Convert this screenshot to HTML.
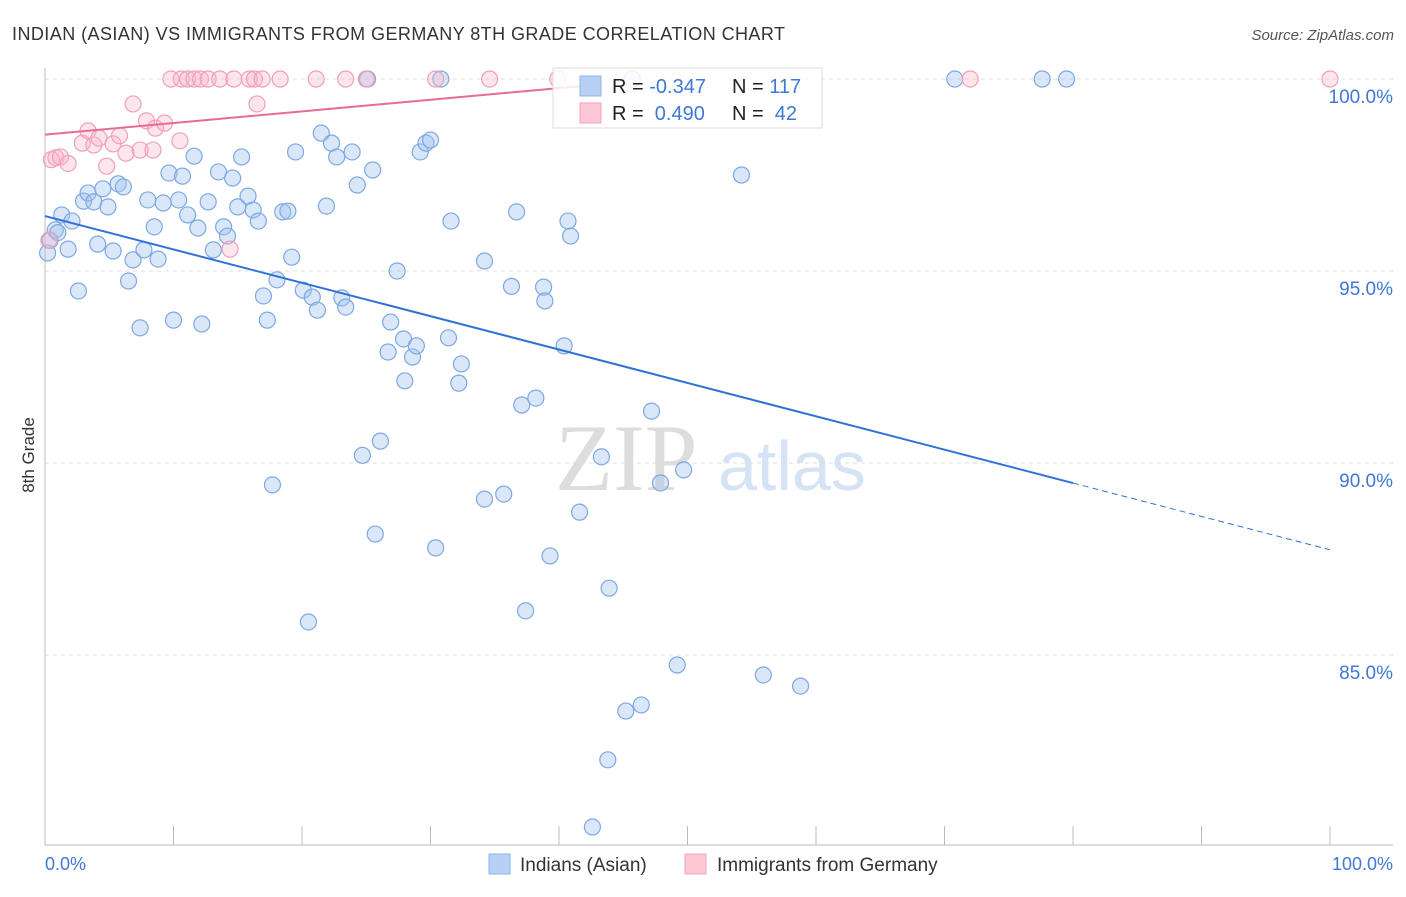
<!DOCTYPE html>
<html><head><meta charset="utf-8"><style>
body{margin:0;background:#fff;font-family:"Liberation Sans",sans-serif}
</style></head><body>
<svg id="c" width="1406" height="892" xmlns="http://www.w3.org/2000/svg" font-family="Liberation Sans, sans-serif">
<text x="12" y="40" font-size="18" fill="#333" textLength="773">INDIAN (ASIAN) VS IMMIGRANTS FROM GERMANY 8TH GRADE CORRELATION CHART</text>
<text x="1394" y="40" font-size="15" fill="#555" font-style="italic" text-anchor="end">Source: ZipAtlas.com</text>
<text x="34" y="455" font-size="17" fill="#333" transform="rotate(-90 34 455)" text-anchor="middle">8th Grade</text>
<text x="555" y="490" font-size="95" fill="#ddd" font-family="Liberation Serif, serif">ZIP</text>
<text x="718" y="490" font-size="70" fill="#d5e3f5">atlas</text>
<g id="grid"></g><g id="pts"></g><g id="lines"></g>
<g>
<rect x="553" y="68" width="269" height="60" fill="rgba(255,255,255,0.85)" stroke="#ddd"/>
<rect x="580" y="76" width="21" height="20" fill="#b7d0f3" stroke="#8fb3e8"/>
<rect x="580" y="103" width="21" height="20" fill="#fcc8d6" stroke="#f2a3b8"/>
<text x="612" y="93" font-size="20" fill="#222">R = <tspan fill="#3f78d6">-0.347</tspan></text>
<text x="732" y="93" font-size="20" fill="#222">N = <tspan fill="#3f78d6">117</tspan></text>
<text x="612" y="120" font-size="20" fill="#222" xml:space="preserve">R =  <tspan fill="#3f78d6">0.490</tspan></text>
<text x="732" y="120" font-size="20" fill="#222" xml:space="preserve">N =  <tspan fill="#3f78d6">42</tspan></text>
</g>
<g>
<rect x="489" y="854" width="21" height="20" fill="#b7d0f3" stroke="#8fb3e8"/>
<text x="520" y="871" font-size="19" fill="#333">Indians (Asian)</text>
<rect x="685" y="854" width="21" height="20" fill="#fcc8d6" stroke="#f2a3b8"/>
<text x="717" y="871" font-size="19" fill="#333">Immigrants from Germany</text>
</g>
<text x="45" y="870" font-size="18" fill="#3f78d6">0.0%</text>
<text x="1393" y="870" font-size="18" fill="#3f78d6" text-anchor="end">100.0%</text>
</svg>
<script>
const blueX=[0.2,0.4,0.8,1.0,1.3,1.8,2.1,2.6,3.0,3.35,3.8,4.1,4.5,4.9,5.3,5.7,6.1,6.5,6.85,7.4,7.7,8.0,8.5,8.8,9.2,9.65,10.0,10.4,10.7,11.1,11.6,11.9,12.2,12.7,13.1,13.5,13.9,14.2,14.6,15.0,15.3,15.8,16.2,16.6,17.0,17.3,17.7,18.05,18.5,18.9,19.2,19.5,20.1,20.5,20.8,21.2,21.5,21.9,22.3,22.7,23.1,23.4,23.9,24.3,24.7,25.1,25.5,25.7,26.1,26.7,26.9,27.4,27.9,28.0,28.6,28.9,29.2,29.65,30.0,30.4,30.8,31.4,31.6,32.2,32.4,34.2,34.2,35.7,36.3,36.7,37.1,37.4,38.2,38.8,38.9,39.3,40.4,40.7,40.9,41.6,42.6,43.3,43.8,43.9,45.2,46.4,47.2,47.9,49.2,49.7,54.2,55.9,58.8,70.8,77.6,79.5,45.7];
const blueY=[95.47,95.8,96.07,96.0,96.46,95.57,96.3,94.48,96.82,97.03,96.8,95.7,97.14,96.67,95.52,97.27,97.19,94.74,95.29,93.52,95.55,96.85,96.15,95.31,96.77,97.55,93.72,96.85,97.47,96.46,97.99,96.12,93.62,96.8,95.55,97.58,96.15,95.91,97.42,96.67,97.97,96.95,96.59,96.3,94.35,93.72,89.43,94.77,96.54,96.56,95.36,98.1,94.5,85.86,94.32,93.98,98.59,96.69,98.33,97.97,94.3,94.06,98.1,97.24,90.2,100,97.63,88.15,90.57,92.89,93.67,95.0,93.23,92.14,92.76,93.05,98.1,98.33,98.41,87.79,100,93.26,96.3,92.08,92.58,89.06,95.26,89.19,94.6,96.54,91.51,86.15,91.69,94.58,94.22,87.58,93.05,96.3,95.91,88.72,80.52,90.16,82.27,86.74,83.54,83.7,91.35,89.48,84.74,89.82,97.5,84.48,84.19,100,100,100,100];
const pinkX=[0.5,0.85,1.2,1.8,2.9,3.35,3.8,4.2,4.8,5.3,5.8,6.3,6.85,7.4,7.9,8.4,8.6,9.3,9.8,10.6,11.1,11.6,12.1,12.7,13.6,14.7,15.9,16.3,16.9,18.3,21.1,23.4,25.0,30.4,34.6,39.9,72.0,100,10.5,14.4,16.5,0.3];
const pinkY=[97.9,97.95,97.97,97.8,98.33,98.65,98.28,98.46,97.73,98.31,98.52,98.07,99.35,98.15,98.91,98.15,98.72,98.85,100,100,100,100,100,100,100,100,100,100,100,100,100,100,100,100,100,100,100,100,98.39,95.57,99.35,95.8];
const yTicks=[100,95,90,85];
const yTickLabels=["100.0%","95.0%","90.0%","85.0%"];
const xTicks=[0,10,20,30,40,50,60,70,80,90,100];
const blueFit=[96.43,-0.0869]; // intercept, slope (per %)
const pinkFit=[98.55,0.0303];
const X=v=>45+v*12.85, Y=v=>79+(100-v)*38.4;
const NS="http://www.w3.org/2000/svg";
function mk(p,t,a){const e=document.createElementNS(NS,t);for(const k in a)e.setAttribute(k,a[k]);document.getElementById(p).appendChild(e);return e;}
yTicks.forEach((v,i)=>{
 const l=mk('grid','line',{x1:45,x2:1393,y1:Y(v),y2:Y(v),stroke:'#ddd','stroke-dasharray':'4 4'});
 
 
 const t=mk('grid','text',{x:1393,y:Y(v)+24,'font-size':19,fill:'#3f78d6','text-anchor':'end'});
 t.textContent=yTickLabels[i];
 
 
});
const ax=mk('grid','line',{x1:45,x2:1393,y1:845,y2:845,stroke:'#bbb'});


const ay=mk('grid','line',{x1:45,x2:45,y1:68,y2:845,stroke:'#bbb'});


xTicks.forEach(v=>{const t=mk('grid','line',{x1:X(v),x2:X(v),y1:826,y2:845,stroke:'#bbb'});
 
 });
blueX.forEach((x,i)=>{const e=mk('pts','circle',{cx:X(x),cy:Y(blueY[i]),r:8,fill:'rgba(160,195,240,0.4)',stroke:'#7ea8e3','stroke-width':1.2});
 
 });
pinkX.forEach((x,i)=>{const e=mk('pts','circle',{cx:X(x),cy:Y(pinkY[i]),r:8,fill:'rgba(250,180,200,0.35)',stroke:'#f0a0b8','stroke-width':1.2});
 
 });
const b1=mk('lines','line',{x1:X(0),y1:Y(blueFit[0]),x2:X(80),y2:Y(blueFit[0]+blueFit[1]*80),stroke:'#2f72d6','stroke-width':2});


const b2=mk('lines','line',{x1:X(80),y1:Y(blueFit[0]+blueFit[1]*80),x2:X(100),y2:Y(blueFit[0]+blueFit[1]*100),stroke:'#2f72d6','stroke-width':1,'stroke-dasharray':'6 4'});


const p1=mk('lines','line',{x1:X(0),y1:Y(pinkFit[0]),x2:X(43),y2:Y(pinkFit[0]+pinkFit[1]*43),stroke:'#e96a94','stroke-width':2});


</script>
</body></html>
